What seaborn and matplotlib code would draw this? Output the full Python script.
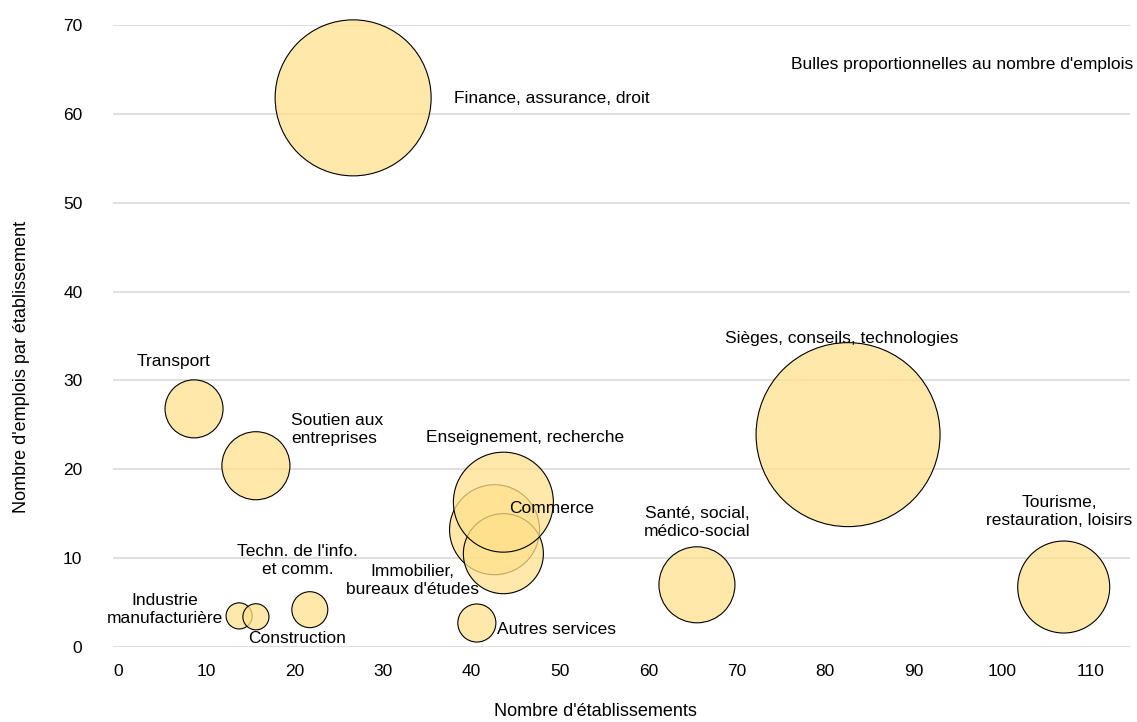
import numpy as np
import pandas as pd
import matplotlib
matplotlib.use("Agg")
import matplotlib.pyplot as plt
import seaborn as sns

# data
secteurs = ["Finance, assurance, droit", "Sièges, conseils, technologies", "Transport",
            "Soutien aux entreprises", "Commerce", "Immobilier, bureaux d'études",
            "Enseignement, recherche", "Autres services", "Santé, social, médico-social",
            "Tourisme, restauration, loisirs", "Industrie manufacturière", "Construction",
            "Techn. de l'info. et comm."]
etablissements = [26.6, 82.6, 8.6, 15.6, 42.6, 43.6, 43.6, 40.6, 65.5, 107.0, 13.7, 15.6, 21.7]
emplois_par_etab = [61.8, 23.9, 26.8, 20.4, 13.2, 10.5, 16.3, 2.7, 7.0, 6.75, 3.5, 3.4, 4.2]
emplois = [1714, 2384, 237, 326, 570, 451, 704, 102, 407, 596, 48, 48, 91]

# labels: text, x, y, alignment
etiquettes = [
    ("Finance, assurance, droit", 38.0, 61.7, "left"),
    ("Sièges, conseils, technologies", 81.9, 34.7, "center"),
    ("Transport", 6.3, 32.1, "center"),
    ("Soutien aux\nentreprises", 19.6, 24.5, "left"),
    ("Enseignement, recherche", 46.1, 23.6, "center"),
    ("Commerce", 44.2, 15.6, "left"),
    ("Santé, social,\nmédico-social", 65.5, 14.0, "center"),
    ("Tourisme,\nrestauration, loisirs", 106.5, 15.3, "center"),
    ("Techn. de l'info.\net comm.", 20.3, 9.7, "center"),
    ("Immobilier,\nbureaux d'études", 33.3, 7.5, "center"),
    ("Industrie\nmanufacturière", 5.3, 4.2, "center"),
    ("Construction", 20.3, 1.0, "center"),
    ("Autres services", 42.9, 2.0, "left"),
]

df = pd.DataFrame({"secteur": secteurs, "x": etablissements,
                   "y": emplois_par_etab, "emplois": emplois})

sns.set_theme(style="white")
plt.rcParams['font.family'] = ['Liberation Sans', 'DejaVu Sans']

fig = plt.figure(figsize=(11.37, 7.22), dpi=100)
ax = fig.add_axes([113/1137, 1 - 647/722, (1130-113)/1137, (647-25)/722])

# area proportional to number of jobs
px = 0.72
k = (2 * px) ** 2 * 3.55
maxe = max(emplois)
sns.scatterplot(data=df, x="x", y="y", size="emplois", sizes=(0, maxe * k),
                size_norm=(0, maxe), legend=False, ax=ax, zorder=3)
coll = ax.collections[0]
coll.set_facecolor((1.0, 0.882, 0.549, 0.75))
coll.set_edgecolor("black")
coll.set_linewidth(0.8)
coll.set_clip_on(False)

for txt, x, y, ha in etiquettes:
    ax.text(x, y, txt, ha=ha, va="center", fontsize=12.5, color="black",
            linespacing=1.25, zorder=5)

ax.text(114.9, 65.6, "Bulles proportionnelles au nombre d'emplois", ha="right",
        va="center", fontsize=12.5, color="black")

ax.set_xlim(-0.57, 114.5)
ax.set_ylim(0, 70)
ax.set_xticks(np.arange(0, 111, 10))
ax.set_yticks(np.arange(0, 71, 10))
ax.yaxis.grid(True, color="#d9d9d9", linewidth=1.2)
ax.set_axisbelow(True)
for s in ax.spines.values():
    s.set_visible(False)
ax.tick_params(axis="both", labelsize=12.5, colors="black", length=0)
ax.tick_params(axis="x", pad=12)
ax.tick_params(axis="y", pad=22)

ax.set_xlabel("Nombre d'établissements", fontsize=13, color="black")
ax.set_ylabel("Nombre d'emplois par établissement", fontsize=13, color="black")
ax.xaxis.label.set_va("center")
ax.yaxis.label.set_va("center")
ax.xaxis.set_label_coords(0.474, -0.104)
ax.yaxis.set_label_coords(-0.0895, 0.45)

fig.savefig("out.png", dpi=100)
